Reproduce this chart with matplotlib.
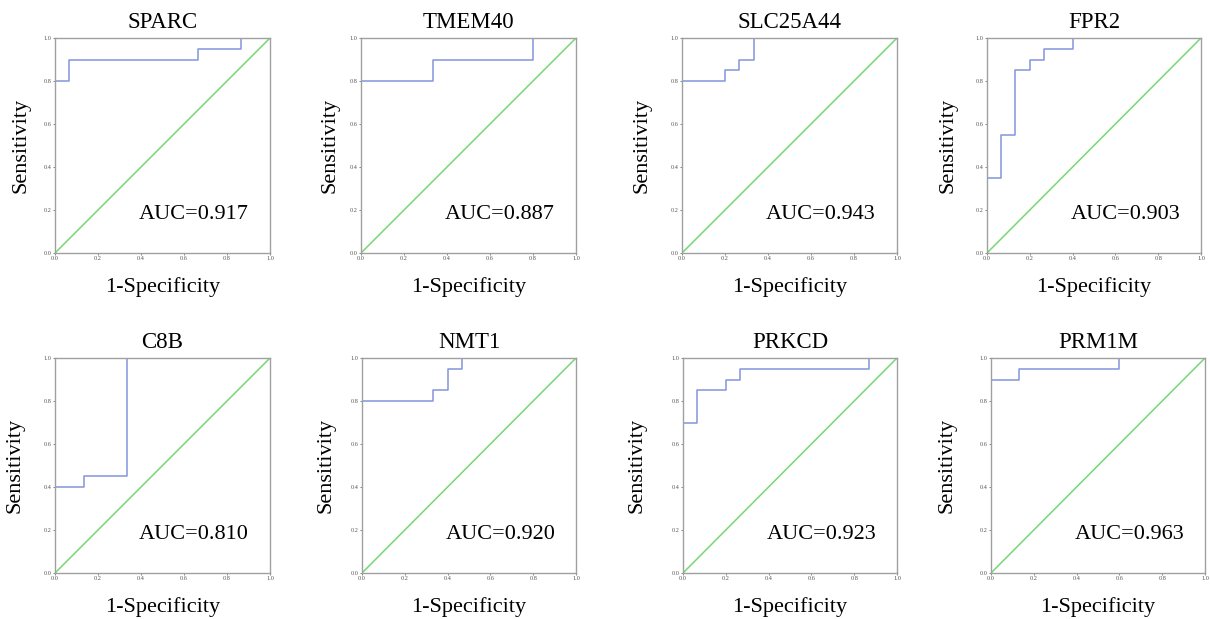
import matplotlib
matplotlib.use("Agg")
import matplotlib.pyplot as plt

plt.rcParams['font.family'] = ['Liberation Serif', 'DejaVu Serif']

# gene names and AUC values
genes = ['SPARC', 'TMEM40', 'SLC25A44', 'FPR2', 'C8B', 'NMT1', 'PRKCD', 'PRM1M']
aucs = ['0.917', '0.887', '0.943', '0.903', '0.810', '0.920', '0.923', '0.963']

# ROC step points (1-specificity, sensitivity)
fpr_sparc = [0, 0, 0.067, 0.067, 0.667, 0.667, 0.867, 0.867, 1]
tpr_sparc = [0, 0.8, 0.8, 0.9, 0.9, 0.95, 0.95, 1.0, 1.0]

fpr_tmem40 = [0, 0, 0.333, 0.333, 0.8, 0.8, 1]
tpr_tmem40 = [0, 0.8, 0.8, 0.9, 0.9, 1.0, 1.0]

fpr_slc = [0, 0, 0.2, 0.2, 0.267, 0.267, 0.333, 0.333, 1]
tpr_slc = [0, 0.8, 0.8, 0.85, 0.85, 0.9, 0.9, 1.0, 1.0]

fpr_fpr2 = [0, 0, 0.067, 0.067, 0.133, 0.133, 0.2, 0.2, 0.267, 0.267, 0.4, 0.4, 1]
tpr_fpr2 = [0, 0.35, 0.35, 0.55, 0.55, 0.85, 0.85, 0.9, 0.9, 0.95, 0.95, 1.0, 1.0]

fpr_c8b = [0, 0, 0.133, 0.133, 0.333, 0.333, 1]
tpr_c8b = [0, 0.4, 0.4, 0.45, 0.45, 1.0, 1.0]

fpr_nmt1 = [0, 0, 0.333, 0.333, 0.4, 0.4, 0.467, 0.467, 1]
tpr_nmt1 = [0, 0.8, 0.8, 0.85, 0.85, 0.95, 0.95, 1.0, 1.0]

fpr_prkcd = [0, 0, 0.067, 0.067, 0.2, 0.2, 0.267, 0.267, 0.867, 0.867, 1]
tpr_prkcd = [0, 0.7, 0.7, 0.85, 0.85, 0.9, 0.9, 0.95, 0.95, 1.0, 1.0]

fpr_prm1m = [0, 0, 0.133, 0.133, 0.6, 0.6, 1]
tpr_prm1m = [0, 0.9, 0.9, 0.95, 0.95, 1.0, 1.0]

fprs = [fpr_sparc, fpr_tmem40, fpr_slc, fpr_fpr2, fpr_c8b, fpr_nmt1, fpr_prkcd, fpr_prm1m]
tprs = [tpr_sparc, tpr_tmem40, tpr_slc, tpr_fpr2, tpr_c8b, tpr_nmt1, tpr_prkcd, tpr_prm1m]

W, H = 1210, 619
fig = plt.figure(figsize=(12.1, 6.19), dpi=100)

# axes boxes in pixels: left, top, right, bottom
boxes = [(55, 38, 270, 253), (361, 38, 576, 253), (682, 38, 897, 253), (987, 38, 1201, 253),
         (55, 358, 270, 573), (362, 358, 576, 573), (683, 358, 897, 573), (991, 358, 1205, 573)]
ylab_x = [-0.115, -0.10, -0.14, -0.14, -0.14, -0.125, -0.17, -0.16]

for i, g in enumerate(genes):
    l, t, r, b = boxes[i]
    ax = fig.add_axes([l / W, 1 - b / H, (r - l) / W, (b - t) / H])
    ax.plot([0, 1], [0, 1], color='#74d874', lw=1.1)
    ax.plot(fprs[i], tprs[i], color='#8495dc', lw=1.1)
    ax.set_xlim(0, 1)
    ax.set_ylim(0, 1)
    ticks = [0, 0.2, 0.4, 0.6, 0.8, 1.0]
    ax.set_xticks(ticks)
    ax.set_yticks(ticks)
    ax.set_xticklabels(['%.1f' % v for v in ticks])
    ax.set_yticklabels(['%.1f' % v for v in ticks])
    ax.tick_params(labelsize=4.5, length=1.5, width=0.5, pad=1, colors='#555555')
    for s in ax.spines.values():
        s.set_color('#a0a0a0')
        s.set_linewidth(1.0)
    ax.set_title(g, fontsize=16.5, pad=7)
    ax.set_xlabel('1-Specificity', fontsize=16)
    ax.set_ylabel('Sensitivity', fontsize=16)
    ax.xaxis.set_label_coords(0.5, -0.11)
    ax.yaxis.set_label_coords(ylab_x[i], 0.5)
    ax.text(0.39, 0.18, 'AUC=' + aucs[i], fontsize=16, ha='left', va='center',
            transform=ax.transAxes)

fig.savefig('out.png', dpi=100)
